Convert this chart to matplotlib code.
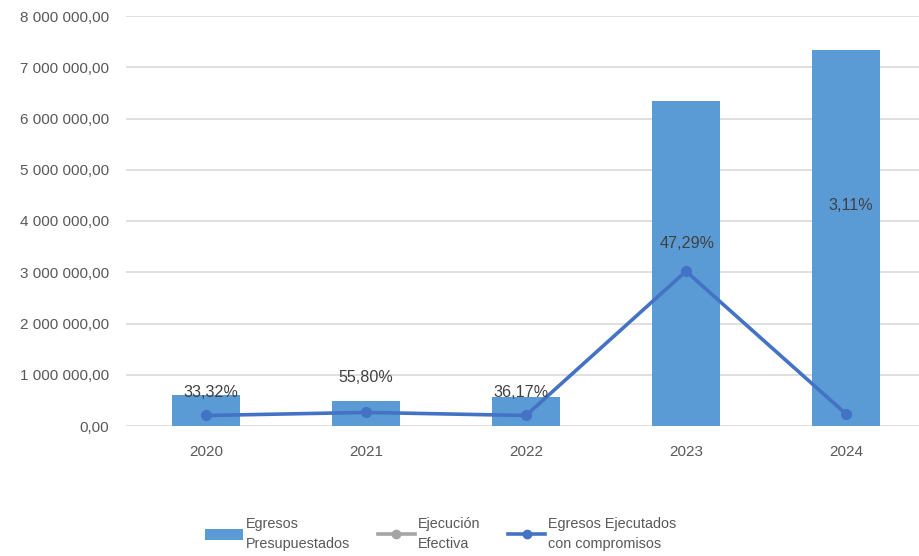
import matplotlib
matplotlib.use("Agg")
import matplotlib.pyplot as plt
from matplotlib.lines import Line2D
from matplotlib.patches import Patch
from matplotlib.ticker import FuncFormatter

years = ["2020", "2021", "2022", "2023", "2024"]
egresos_presupuestados = [605000, 490000, 560000, 6340000, 7330000]
egresos_ejecutados = [205000, 265000, 205000, 3020000, 235000]
ejecucion_efectiva_pct = [33.32, 55.80, 36.17, 47.29, 3.11]
series_names = ["Egresos\nPresupuestados", "Ejecución\nEfectiva", "Egresos Ejecutados\ncon compromisos"]

# label placement (layout only)
label_y = [663000, 937000, 663000, 3570000, 4310000]
label_dx = [0.03, 0.0, -0.03, 0.01, 0.03]

plt.rcParams['font.family'] = ['Liberation Sans', 'DejaVu Sans']

W, H = 919, 556
fig = plt.figure(figsize=(W / 100, H / 100), dpi=100)
ax = fig.add_axes([126 / W, (H - 426) / H, 800 / W, 410 / H])

x = list(range(len(years)))
ax.bar(x, egresos_presupuestados, width=0.42, color="#5B9BD5", zorder=2)
ax.plot(x, egresos_ejecutados, color="#4472C4", lw=2.6, marker="o", ms=7, zorder=3)

def fmt_pct(v):
    return f"{v:.2f}".replace(".", ",") + "%"

for i, v in enumerate(ejecucion_efectiva_pct):
    ax.text(i + label_dx[i], label_y[i], fmt_pct(v), ha="center", va="center",
            fontsize=11.6, color="#404040", zorder=4)

ax.set_xlim(-0.5, 4.5)
ax.set_ylim(0, 8000000)
ax.set_yticks(range(0, 8000001, 1000000))

def yfmt(v, pos):
    s = f"{int(round(v)):,}".replace(",", " ")
    return s + ",00"

ax.yaxis.set_major_formatter(FuncFormatter(yfmt))
ax.set_xticks(x)
ax.set_xticklabels(years)
ax.tick_params(axis="both", length=0, labelsize=11, colors="#595959")
ax.tick_params(axis="x", pad=14)
ax.tick_params(axis="y", pad=12)
ax.grid(axis="y", color="#D9D9D9", lw=1.2, zorder=0)
ax.set_axisbelow(True)
for s in ax.spines.values():
    s.set_visible(False)

handles = [
    Patch(facecolor="#5B9BD5", edgecolor="none"),
    Line2D([0], [0], color="#A5A5A5", lw=2.6, marker="o", ms=6),
    Line2D([0], [0], color="#4472C4", lw=2.6, marker="o", ms=6),
]
leg = fig.legend(handles, series_names, loc="center", bbox_to_anchor=(441 / W, (H - 534) / H),
                 ncol=3, frameon=False, fontsize=10.4, handlelength=2.6, handletextpad=0.2,
                 columnspacing=1.9, labelcolor="#595959")
for t in leg.get_texts():
    t.set_linespacing(1.55)

fig.savefig("out.png", dpi=100)
